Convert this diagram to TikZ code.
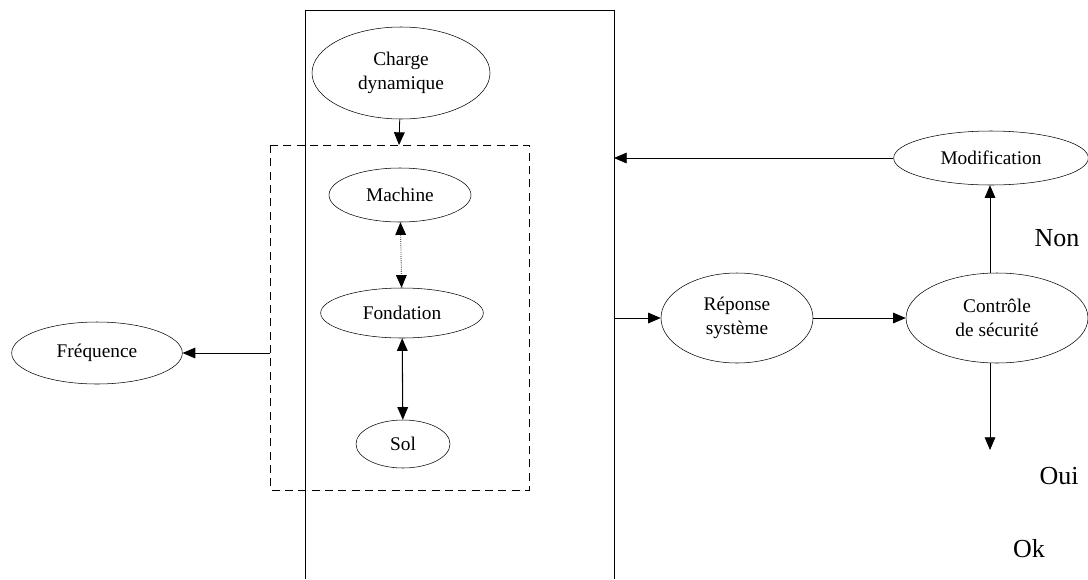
\documentclass[tikz,border=0pt]{standalone}
\usepackage{fontspec}
\setmainfont{Liberation Serif}
\usetikzlibrary{shapes.geometric,arrows.meta}

\begin{document}
\begin{tikzpicture}[x=0.75pt,y=-0.75pt,
    bulle/.style={draw,ellipse,inner sep=0pt,font=\fontsize{14.5}{18.5}\selectfont,align=center},
    fl/.style={semithick,-{Triangle[length=9.5pt,width=8pt]}},
    dfl/.style={semithick,{Triangle[length=9.5pt,width=8pt]}-{Triangle[length=9.5pt,width=8pt]}},
    rep/.style={font=\fontsize{19.5}{22}\selectfont}]
  \useasboundingbox (0,0) rectangle (1088,579);
  \draw (305,579) -- (305,10) -- (614,10) -- (614,579);
  \draw[dashed,dash pattern=on 6pt off 4pt] (270,145) rectangle (529,490);
  \coordinate (boxtop) at (399,145);
  \coordinate (boxleft) at (270,353);
  \coordinate (sysR) at (614,318);
  \coordinate (sysM) at (614,158);
  \node[bulle,minimum width=133.5pt,minimum height=69pt] (charge) at (401,73) {Charge\\dynamique};
  \node[bulle,minimum width=106.5pt,minimum height=40.5pt] (machine) at (400,195) {Machine};
  \node[bulle,minimum width=122pt,minimum height=37.5pt] (fondation) at (402,313) {Fondation};
  \node[bulle,minimum width=70.5pt,minimum height=36pt] (sol) at (403,444) {Sol};
  \node[bulle,minimum width=128pt,minimum height=46.5pt] (freq) at (97,353) {Fréquence};
  \node[bulle,minimum width=114pt,minimum height=67.5pt] (reponse) at (737,318) {Réponse\\système};
  \node[bulle,minimum width=136.5pt,minimum height=67.5pt] (controle) at (997,318) {Contrôle\\de sécurité};
  \node[bulle,minimum width=146pt,minimum height=40.5pt] (modif) at (991,158) {Modification};
  \coordinate (fin) at (990,450);
  \draw[fl] (charge) -- (boxtop);
  \draw[dfl,densely dotted] (machine) -- (fondation);
  \draw[dfl,thick] (fondation) -- (sol);
  \draw[fl] (boxleft) -- (freq);
  \draw[fl] (sysR) -- (reponse);
  \draw[fl] (reponse) -- (controle);
  \draw[fl] (controle.north -| fin) -- (modif.south -| fin);
  \draw[fl] (modif) -- (sysM);
  \draw[fl] (controle.south -| fin) -- (fin);
  \node[rep] (non) at (1057,238) {Non};
  \node[rep] (oui) at (1059,476) {Oui};
  \node[rep] (ok) at (1029,549) {Ok};
\end{tikzpicture}
\end{document}
